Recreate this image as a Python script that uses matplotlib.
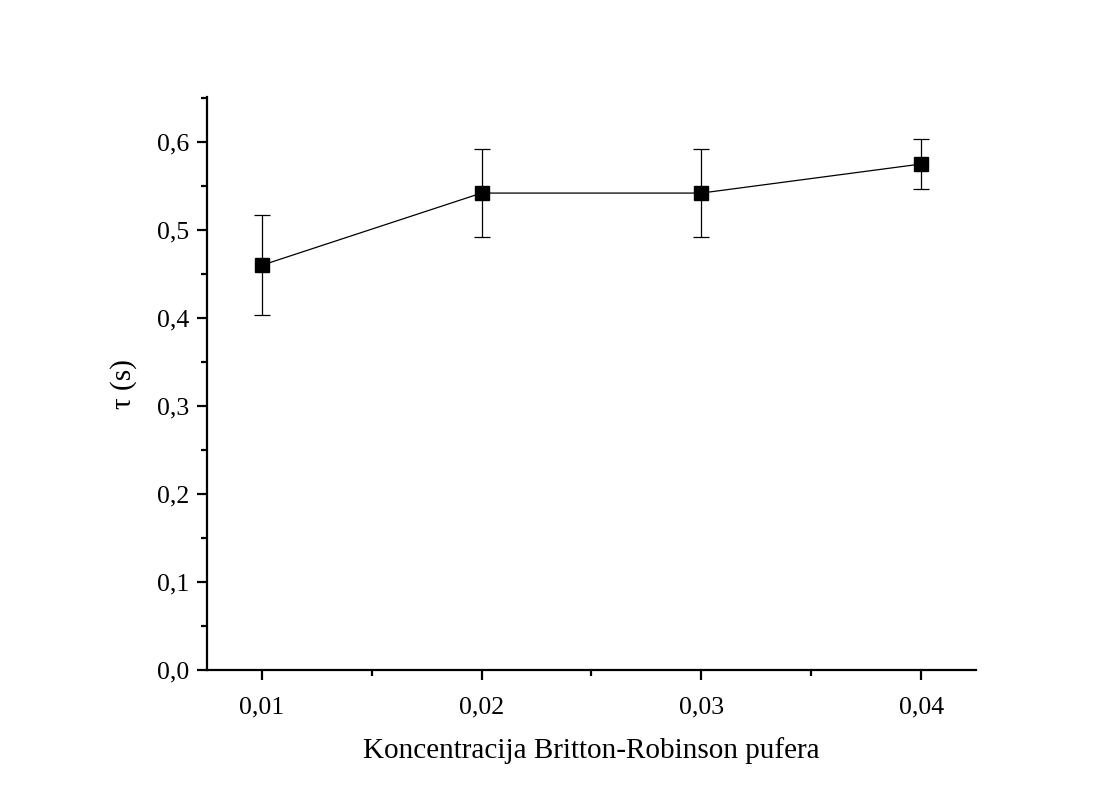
import matplotlib.pyplot as plt
from matplotlib.ticker import MultipleLocator, FuncFormatter

plt.rcParams['font.family'] = ['Liberation Serif', 'DejaVu Serif']

# data
conc = [0.01, 0.02, 0.03, 0.04]
tau = [0.460, 0.542, 0.542, 0.575]
tau_err = [0.057, 0.050, 0.050, 0.028]

fig = plt.figure(figsize=(11.18, 7.96), dpi=100)
ax = fig.add_axes([0.185, 0.158, 0.688, 0.720])

ax.errorbar(conc, tau, yerr=tau_err, color='black', linewidth=0.9,
            marker='s', markersize=10, elinewidth=0.9, capsize=6, capthick=0.9)

ax.set_xlim(0.0075, 0.0425)
ax.set_ylim(0, 0.651)
ax.xaxis.set_major_locator(MultipleLocator(0.01))
ax.xaxis.set_minor_locator(MultipleLocator(0.005))
ax.yaxis.set_major_locator(MultipleLocator(0.1))
ax.yaxis.set_minor_locator(MultipleLocator(0.05))
ax.xaxis.set_major_formatter(FuncFormatter(lambda v, p: f"{v:.2f}".replace('.', ',')))
ax.yaxis.set_major_formatter(FuncFormatter(lambda v, p: f"{v:.1f}".replace('.', ',')))

for side in ['top', 'right']:
    ax.spines[side].set_visible(False)
for side in ['left', 'bottom']:
    ax.spines[side].set_linewidth(1.6)

ax.tick_params(which='major', direction='out', length=7, width=1.6, labelsize=18.5)
ax.tick_params(axis='x', which='major', pad=12)
ax.tick_params(axis='y', which='major', pad=6)
ax.tick_params(which='minor', direction='out', length=4, width=1.6)

ax.set_xlabel('Koncentracija Britton-Robinson pufera', fontsize=21, labelpad=13)
ax.set_ylabel('τ (s)', fontsize=21, labelpad=14)

plt.savefig('out.png', dpi=100)
